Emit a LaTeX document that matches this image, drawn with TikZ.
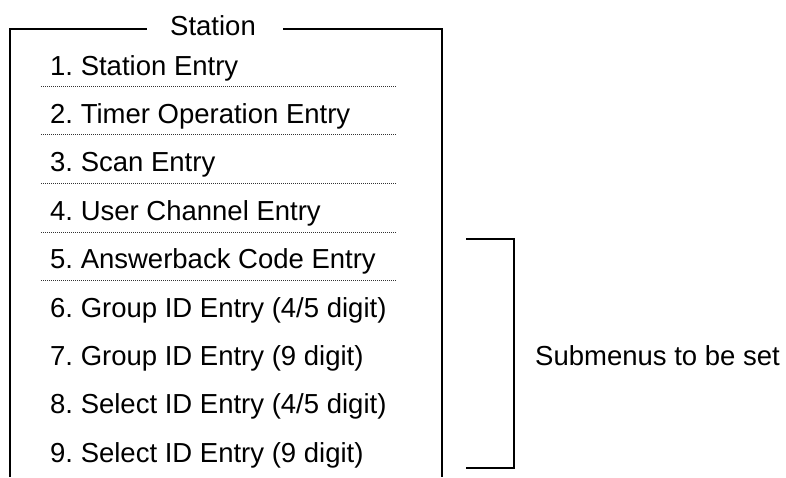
\documentclass[tikz,border=0pt]{standalone}
\usepackage{fontspec}
\setmainfont{Liberation Sans}
\frenchspacing
\begin{document}
\begin{tikzpicture}[x=1pt,y=-1pt,
  item/.style={anchor=base west,inner sep=0pt,font=\fontsize{27.5}{33}\selectfont\frenchspacing},
  frame/.style={line width=2pt},
  sep/.style={line width=1pt,dash pattern=on 1pt off 1pt,black!80}]
\useasboundingbox (0,0) rectangle (786,477);
% frame
\node[item,anchor=base] (title) at (213,35) {Station};
\coordinate (tl) at (10,29);
\coordinate (tr) at (442,29);
\coordinate (bl) at (10,477);
\coordinate (br) at (442,477);
\coordinate (gapl) at (147,29);
\coordinate (gapr) at (283,29);
\draw[frame] (bl) -- (tl) -- (gapl);
\draw[frame] (gapr) -- (tr) -- (br);
% items
\foreach \i/\t in {1/{1. Station Entry},2/{2. Timer Operation Entry},3/{3. Scan Entry},4/{4. User Channel Entry},5/{5. Answerback Code Entry},6/{6. Group ID Entry (4/5 digit)},7/{7. Group ID Entry (9 digit)},8/{8. Select ID Entry (4/5 digit)},9/{9. Select ID Entry (9 digit)}}{
  \node[item] (it\i) at (50,{75+48.4*(\i-1)}) {\t};
}
\foreach \i in {1,...,5}{
  \draw[sep] (41,{86+48.7*(\i-1)}) -- (396,{86+48.7*(\i-1)});
}
% bracket
\coordinate (b1) at (466,239);
\coordinate (b2) at (514,239);
\coordinate (b3) at (514,468);
\coordinate (b4) at (466,468);
\draw[frame] (b1) -- (b2) -- (b3) -- (b4);
\node[item] (sub) at (535,365) {Submenus to be set};
\end{tikzpicture}
\end{document}
